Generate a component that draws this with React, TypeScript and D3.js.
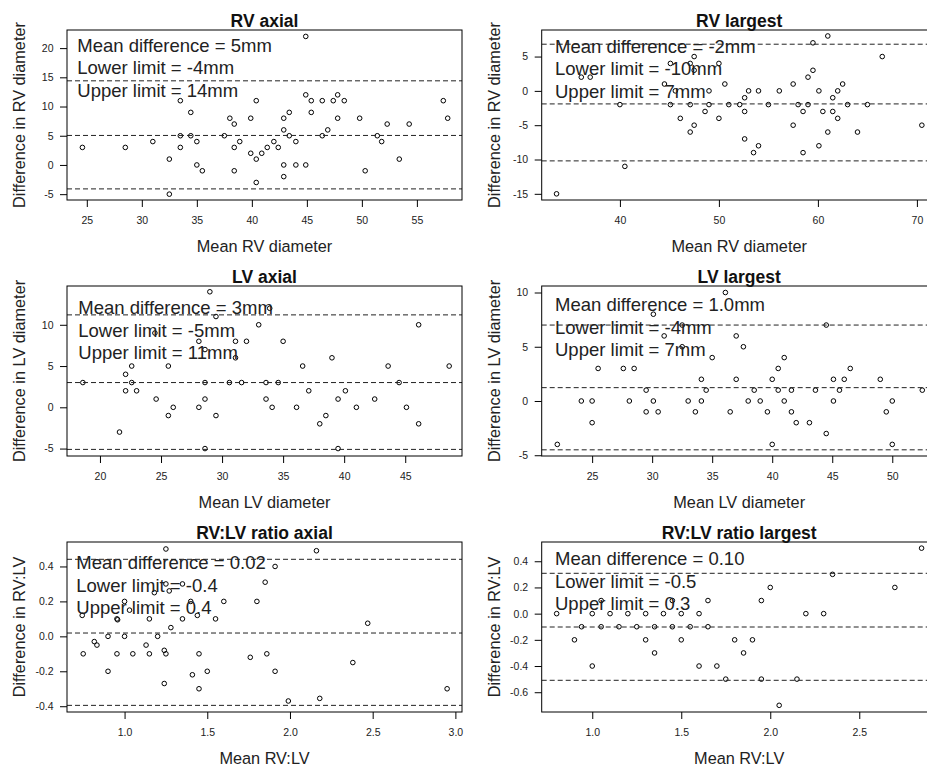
import React, { useEffect, useRef } from "react";
import * as d3 from "d3";

// mean (x) vs difference (y) for each comparison
const rvAxialPts: [number, number][] = [
  [24.6, 3], [28.5, 3], [31.0, 4], [32.5, 1], [32.5, -5], [33.5, 11], [33.5, 5], [33.5, 3],
  [34.45, 9], [34.45, 5], [35.0, 4], [35.0, 0], [35.5, -1], [37.5, 5], [38.0, 8], [38.4, 7],
  [38.4, 3], [38.9, 4], [38.4, -1], [39.9, 8], [39.9, 2], [40.4, 11], [40.4, 1], [40.4, -3],
  [40.9, 2], [41.4, 3], [42.0, 4], [42.4, 3], [42.9, 8], [42.9, 6], [42.9, 0], [42.9, -2],
  [43.4, 9], [43.4, 5], [44.0, 4], [44.0, 0], [44.9, 22], [44.9, 12], [44.9, 0], [45.4, 11],
  [45.4, 9], [46.4, 11], [46.4, 5], [46.9, 6], [47.4, 11], [47.8, 12], [48.4, 11], [47.8, 8],
  [49.8, 8], [50.3, -1], [51.4, 5], [51.8, 4], [52.3, 7], [53.4, 1], [54.3, 7], [57.4, 11],
  [57.8, 8],
];

const rvLargestPts: [number, number][] = [
  [33.6, -15], [36.1, 2], [37.0, 2], [40.0, -2], [40.5, -11], [44.5, 1], [45.1, 4], [45.1, -2],
  [46.1, -4], [47.1, 4], [47.1, -2], [47.1, -6], [47.5, 5], [47.5, 3], [47.5, -5], [48.6, -3],
  [49.0, 0], [49.0, -2], [50.0, 4], [50.0, -4], [50.6, 1], [51.0, -2], [52.1, -2], [52.6, -1],
  [52.6, -3], [52.6, -7], [53.0, 0], [53.5, -9], [54.0, 0], [54.0, -8], [55.0, -2], [56.1, 0],
  [57.5, 1], [57.5, -5], [58.0, -2], [58.5, -3], [58.5, -9], [59.0, -2], [59.0, 2], [59.5, 7],
  [59.5, 3], [60.1, 0], [60.1, -8], [60.5, -3], [61.0, 8], [61.0, -6], [61.5, -1], [61.5, -3],
  [62.0, 0], [62.0, -4], [62.5, 1], [63.0, -2], [64.0, -6], [65.0, -2], [66.5, 5], [70.5, -5],
  [45.6, 0],
];

const lvAxialPts: [number, number][] = [
  [18.6, 3], [21.6, -3], [22.1, 4], [22.1, 2], [22.6, 5], [22.6, 3], [23.0, 2], [24.6, 1],
  [24.5, 9], [25.6, 5], [25.6, -1], [26.0, 0], [28.1, 8], [28.1, 0], [28.6, -5], [28.6, 3],
  [28.6, 1], [28.6, 7], [29.0, 14], [29.5, 11], [29.5, -1], [30.6, 3], [31.1, 8], [31.1, 6],
  [31.6, 3], [32.0, 8], [33.0, 10], [33.6, 3], [33.6, 1], [34.1, 0], [34.6, 3], [35.0, 8],
  [36.1, 0], [36.6, 5], [37.1, 2], [38.0, -2], [38.5, -1], [39.0, 6], [39.5, 1], [39.5, -5],
  [40.1, 2], [41.0, 0], [42.5, 1], [43.6, 5], [44.5, 3], [45.1, 0], [46.1, 10], [46.1, -2],
  [48.6, 5], [33.9, 12],
];

const lvLargestPts: [number, number][] = [
  [22.1, -4], [24.1, 0], [25.0, 0], [25.0, -2], [25.5, 3], [27.6, 3], [28.1, 0], [28.5, 3],
  [29.5, 1], [29.5, -1], [30.1, 8], [30.1, 0], [30.5, -1], [31.0, 6], [32.5, 7], [32.5, 5],
  [33.0, 0], [33.6, -1], [34.1, 2], [34.1, 0], [34.5, 1], [35.0, 4], [36.1, 10], [36.5, -1],
  [37.0, 6], [37.0, 2], [37.6, 5], [38.0, 0], [38.5, 1], [39.0, 0], [39.6, -1], [40.0, 2],
  [40.0, -4], [40.5, 3], [40.5, 1], [41.0, 4], [41.0, 0], [41.6, 1], [41.6, -1], [42.0, -2],
  [43.1, -2], [43.6, 1], [44.5, 7], [44.5, -3], [45.1, 2], [45.1, 0], [45.6, 1], [46.0, 2],
  [46.5, 3], [49.0, 2], [49.5, -1], [50.0, 0], [50.0, -4], [52.5, 1],
];

const ratioAxialPts: [number, number][] = [
  [0.744, 0.12], [0.75, -0.1], [0.817, -0.03], [0.833, -0.05], [0.9, 0.0], [0.9, -0.2],
  [0.954, 0.1], [0.958, 0.095], [0.954, -0.1], [1.0, 0.2], [1.0, 0.0], [1.03, 0.15],
  [1.05, -0.1], [1.13, -0.05], [1.15, 0.1], [1.15, -0.1], [1.18, 0.25], [1.2, 0.0],
  [1.24, -0.27], [1.24, -0.08], [1.25, -0.1], [1.25, 0.5], [1.25, 0.3], [1.27, 0.26],
  [1.28, 0.05], [1.35, 0.1], [1.35, 0.3], [1.4, 0.2], [1.41, -0.22], [1.44, 0.12],
  [1.45, -0.1], [1.45, -0.3], [1.5, -0.2], [1.55, 0.1], [1.6, 0.2], [1.76, -0.12],
  [1.8, 0.2], [1.85, 0.31], [1.86, -0.1], [1.91, 0.4], [1.91, -0.2], [1.99, -0.37],
  [2.16, 0.49], [2.18, -0.355], [2.38, -0.15], [2.47, 0.075], [2.95, -0.3],
];

const ratioLargestPts: [number, number][] = [
  [0.8, 0], [0.9, -0.2], [0.94, -0.1], [1.0, 0], [1.0, -0.4], [1.05, -0.1], [1.1, 0],
  [1.15, -0.1], [1.2, 0], [1.25, -0.1], [1.3, 0], [1.3, -0.2], [1.35, -0.1], [1.35, -0.3],
  [1.4, 0], [1.45, -0.1], [1.5, 0], [1.5, -0.2], [1.55, -0.1], [1.6, 0], [1.6, -0.4],
  [1.65, 0.1], [1.65, -0.1], [1.7, -0.4], [1.75, -0.5], [1.8, -0.2], [1.85, -0.3],
  [1.9, -0.2], [1.95, 0.1], [1.95, -0.5], [2.0, 0.2], [2.05, -0.7], [2.15, -0.5], [2.2, 0],
  [2.3, 0], [2.35, 0.3], [2.7, 0.2], [2.85, 0.5], [1.05, 0.1], [1.45, 0.1],
];

// upper limit, mean difference, lower limit
const rvAxialLines = [14.4, 5.05, -4.1];
const rvLargestLines = [6.8, -1.9, -10.2];
const lvAxialLines = [11.2, 3.0, -5.1];
const lvLargestLines = [7.0, 1.23, -4.5];
const ratioAxialLines = [0.441, 0.019, -0.395];
const ratioLargestLines = [0.308, -0.102, -0.509];

const rvAxialText = ["Mean difference = 5mm", "Lower limit = -4mm", "Upper limit = 14mm"];
const rvLargestText = ["Mean difference = -2mm", "Lower limit = -10mm", "Upper limit = 7mm"];
const lvAxialText = ["Mean difference = 3mm", "Lower limit = -5mm", "Upper limit = 11mm"];
const lvLargestText = ["Mean difference = 1.0mm", "Lower limit = -4mm", "Upper limit = 7mm"];
const ratioAxialText = ["Mean difference = 0.02", "Lower limit = -0.4", "Upper limit = 0.4"];
const ratioLargestText = ["Mean difference = 0.10", "Lower limit = -0.5", "Upper limit = 0.3"];

const panels = [
  {
    title: "RV axial", pts: rvAxialPts, lines: rvAxialLines, text: rvAxialText,
    xLabel: "Mean RV diameter", yLabel: "Difference in RV diameter",
    xDomain: [23.2, 59.1], yDomain: [-6.0, 23.1],
    xTicks: [25, 30, 35, 40, 45, 50, 55], yTicks: [-5, 0, 5, 10, 15, 20], dec: 0,
  },
  {
    title: "RV largest", pts: rvLargestPts, lines: rvLargestLines, text: rvLargestText,
    xLabel: "Mean RV diameter", yLabel: "Difference in RV diameter",
    xDomain: [32.1, 72.0], yDomain: [-15.9, 8.87],
    xTicks: [40, 50, 60, 70], yTicks: [-15, -10, -5, 0, 5], dec: 0,
  },
  {
    title: "LV axial", pts: lvAxialPts, lines: lvAxialLines, text: lvAxialText,
    xLabel: "Mean LV diameter", yLabel: "Difference in LV diameter",
    xDomain: [17.3, 49.65], yDomain: [-5.9, 14.7],
    xTicks: [20, 25, 30, 35, 40, 45], yTicks: [-5, 0, 5, 10], dec: 0,
  },
  {
    title: "LV largest", pts: lvLargestPts, lines: lvLargestLines, text: lvLargestText,
    xLabel: "Mean LV diameter", yLabel: "Difference in LV diameter",
    xDomain: [20.8, 53.7], yDomain: [-5.07, 10.6],
    xTicks: [25, 30, 35, 40, 45, 50], yTicks: [-5, 0, 5, 10], dec: 0,
  },
  {
    title: "RV:LV ratio axial", pts: ratioAxialPts, lines: ratioAxialLines, text: ratioAxialText,
    xLabel: "Mean RV:LV", yLabel: "Difference in RV:LV",
    xDomain: [0.652, 3.04], yDomain: [-0.433, 0.54],
    xTicks: [1.0, 1.5, 2.0, 2.5, 3.0], yTicks: [-0.4, -0.2, 0.0, 0.2, 0.4], dec: 1,
  },
  {
    title: "RV:LV ratio largest", pts: ratioLargestPts, lines: ratioLargestLines, text: ratioLargestText,
    xLabel: "Mean RV:LV", yLabel: "Difference in RV:LV",
    xDomain: [0.716, 2.935], yDomain: [-0.751, 0.547],
    xTicks: [1.0, 1.5, 2.0, 2.5], yTicks: [-0.6, -0.4, -0.2, 0.0, 0.2, 0.4], dec: 1,
  },
];

// layout
const colLeft = [67, 541.7];
const rowTop = [30, 286, 542];
const W = 395;
const H = 170;
const legendOffset = [[10.3, 21.7], [13.3, 22.7], [11.3, 28.3], [13.3, 25], [9.3, 27.3], [13.3, 23.3]];
const FONT = "'Liberation Sans', Arial, sans-serif";

const Axis = ({ axis, transform }: { axis: any; transform: string }) => {
  const node = useRef<SVGGElement>(null);
  useEffect(() => {
    if (node.current) {
      const g = d3.select(node.current);
      g.call(axis);
      g.select(".domain").remove();
      g.attr("font-size", 10.5).attr("font-family", FONT).style("color", "#000");
      g.selectAll("text").attr("fill", "#222");
    }
  }, [axis]);
  return <g ref={node} transform={transform} />;
};

const Panel = ({ p, i }: { p: any; i: number }) => {
  const left = colLeft[i % 2];
  const top = rowTop[Math.floor(i / 2)];
  const x = d3.scaleLinear().domain(p.xDomain).range([0, W]);
  const y = d3.scaleLinear().domain(p.yDomain).range([H, 0]);
  const fmt = (d: number) => d.toFixed(p.dec);
  const [dx, dy] = legendOffset[i];
  return (
    <g transform={`translate(${left},${top})`}>
      <defs>
        <clipPath id={`clip${i}`}>
          <rect width={W} height={H} />
        </clipPath>
      </defs>
      <g clipPath={`url(#clip${i})`}>
        {p.pts.map((d: [number, number], k: number) => (
          <circle key={k} cx={x(d[0])} cy={y(d[1])} r={2.3} fill="none" stroke="#000" strokeWidth={1} />
        ))}
        {p.lines.map((v: number, k: number) => (
          <line key={k} x1={0} x2={W} y1={y(v)} y2={y(v)} stroke="#222" strokeWidth={1} strokeDasharray="5,3" />
        ))}
      </g>
      <rect width={W} height={H} fill="none" stroke="#000" strokeWidth={1} />
      <Axis
        transform={`translate(0,${H})`}
        axis={d3.axisBottom(x).tickValues(p.xTicks).tickFormat(fmt as any).tickSize(7).tickPadding(10)}
      />
      <Axis
        transform="translate(0,0)"
        axis={d3.axisLeft(y).tickValues(p.yTicks).tickFormat(fmt as any).tickSize(7).tickPadding(6.5)}
      />
      <text x={W / 2} y={-3.5} textAnchor="middle" fontFamily={FONT} fontWeight="bold" fontSize={17.5} fill="#111">
        {p.title}
      </text>
      {p.text.map((t: string, k: number) => (
        <text key={k} x={dx} y={dy + k * 22.5} fontFamily={FONT} fontSize={18.5} fill="#222">
          {t}
        </text>
      ))}
      <text x={W / 2} y={H + 52} textAnchor="middle" fontFamily={FONT} fontSize={16.3} fill="#222">
        {p.xLabel}
      </text>
      <text
        transform={`translate(-42,${H / 2}) rotate(-90)`}
        textAnchor="middle"
        fontFamily={FONT}
        fontSize={16.3}
        fill="#222"
      >
        {p.yLabel}
      </text>
    </g>
  );
};

export default function App() {
  return (
    <svg
      width={927}
      height={766}
      style={{ position: "absolute", left: 0, top: 0, background: "#fff" }}
    >
      <rect width={927} height={766} fill="#fff" />
      {panels.map((p, i) => (
        <Panel key={i} p={p} i={i} />
      ))}
    </svg>
  );
}
